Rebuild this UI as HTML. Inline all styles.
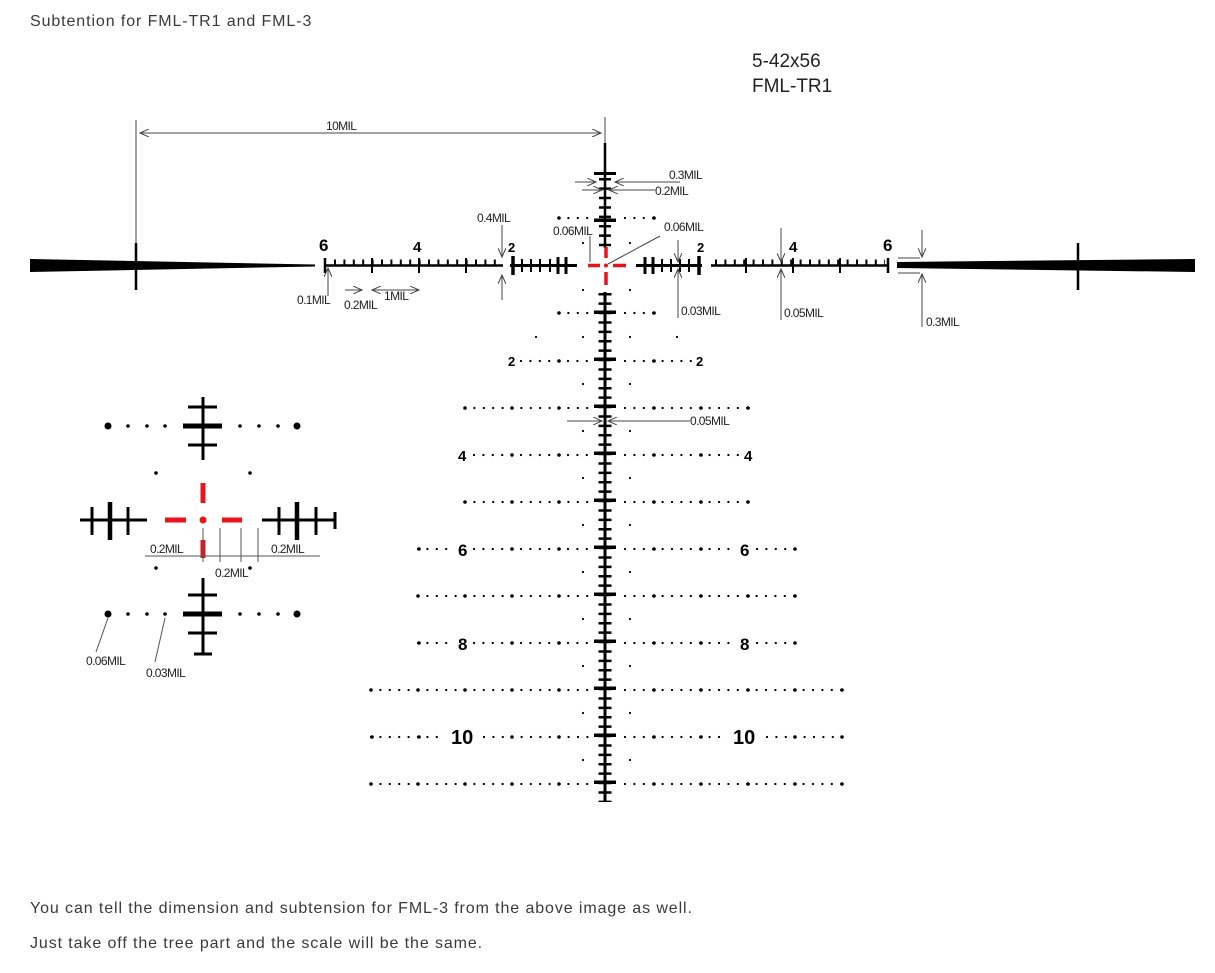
<!DOCTYPE html>
<html><head><meta charset="utf-8"><style>
html,body{margin:0;padding:0;background:#fff;width:1215px;height:973px;overflow:hidden}
.t{position:absolute;font-family:"Liberation Sans",sans-serif;color:#3a3a3a;white-space:nowrap}
.s{letter-spacing:0.9px}
svg{position:absolute;left:0;top:0}
</style></head><body>
<div class="t s" style="left:30px;top:13px;font-size:16px">Subtention for FML-TR1 and FML-3</div>
<div class="t" style="left:752px;top:49px;font-size:19px;line-height:25px;color:#222">5-42x56<br>FML-TR1</div>
<div class="t s" style="left:30px;top:900px;font-size:16px">You can tell the dimension and subtension for FML-3 from the above image as well.</div>
<div class="t s" style="left:30px;top:935px;font-size:16px">Just take off the tree part and the scale will be the same.</div>
<svg width="1215" height="973" viewBox="0 0 1215 973" font-family="Liberation Sans, sans-serif">
<defs><marker id="a" markerWidth="10" markerHeight="8" refX="9" refY="4" orient="auto" markerUnits="userSpaceOnUse"><path d="M0,0 L9,4 L0,8" fill="none" stroke="#444" stroke-width="1"/></marker></defs>
<g stroke="#000" fill="none">
<polygon points="30,259 315,264.5 315,266.5 30,272" fill="#000" stroke="none"/>
<polygon points="897,262 1195,259 1195,272 897,268" fill="#000" stroke="none"/>
<line x1="136" y1="243" x2="136" y2="290" stroke-width="2.5"/>
<line x1="1078" y1="243" x2="1078" y2="290" stroke-width="2.5"/>
<line x1="325" y1="265.5" x2="503" y2="265.5" stroke-width="2.5"/>
<line x1="334" y1="262" x2="503" y2="262" stroke-width="5" stroke-dasharray="2 7.4"/>
<line x1="325" y1="258" x2="325" y2="273" stroke-width="2.5"/>
<line x1="372" y1="258" x2="372" y2="273" stroke-width="2"/>
<line x1="419" y1="258" x2="419" y2="273" stroke-width="2"/>
<line x1="466" y1="258" x2="466" y2="273" stroke-width="2"/>
<line x1="711" y1="265.5" x2="888" y2="265.5" stroke-width="2.5"/>
<line x1="715" y1="262" x2="885" y2="262" stroke-width="5" stroke-dasharray="2 7.4"/>
<line x1="746" y1="258" x2="746" y2="273" stroke-width="2"/>
<line x1="793" y1="258" x2="793" y2="273" stroke-width="2"/>
<line x1="840" y1="258" x2="840" y2="273" stroke-width="2"/>
<line x1="888" y1="258" x2="888" y2="273" stroke-width="2.5"/>
<line x1="510" y1="265.5" x2="577" y2="265.5" stroke-width="3"/>
<line x1="513" y1="256" x2="513" y2="275" stroke-width="3.5"/>
<g stroke-width="2"><line x1="522" y1="259" x2="522" y2="272"/><line x1="531" y1="259" x2="531" y2="272"/><line x1="540" y1="259" x2="540" y2="272"/><line x1="550" y1="259" x2="550" y2="272"/></g>
<line x1="558" y1="257" x2="558" y2="274" stroke-width="3"/><line x1="566" y1="257" x2="566" y2="274" stroke-width="3"/>
<line x1="636" y1="265.5" x2="702" y2="265.5" stroke-width="3"/>
<line x1="699" y1="256" x2="699" y2="275" stroke-width="3.5"/>
<g stroke-width="2"><line x1="662" y1="259" x2="662" y2="272"/><line x1="671" y1="259" x2="671" y2="272"/><line x1="680" y1="259" x2="680" y2="272"/><line x1="689" y1="259" x2="689" y2="272"/></g>
<line x1="645" y1="257" x2="645" y2="274" stroke-width="3"/><line x1="653" y1="257" x2="653" y2="274" stroke-width="3"/>
<line x1="605" y1="143" x2="605" y2="248" stroke-width="2.5"/>
<line x1="605" y1="178" x2="605" y2="248" stroke-width="12" stroke-dasharray="2.5 6.9"/>
<line x1="605" y1="172" x2="605" y2="175" stroke-width="22"/>
<line x1="605" y1="218.5" x2="605" y2="222" stroke-width="22"/>
<line x1="605" y1="292" x2="605" y2="802" stroke-width="3"/>
<line x1="605" y1="293" x2="605" y2="802" stroke-width="13" stroke-dasharray="2.5 6.9"/>
<line x1="605" y1="310.5" x2="605" y2="802" stroke-width="22" stroke-dasharray="3.5 43.5"/>
</g>
<g stroke="#e8141b" stroke-width="3.5">
<line x1="588" y1="265.5" x2="600" y2="265.5"/><line x1="613" y1="265.5" x2="626" y2="265.5"/>
<line x1="606" y1="247" x2="606" y2="258"/><line x1="606" y1="272" x2="606" y2="285"/>
</g><circle cx="606" cy="265.5" r="2" fill="#e8141b"/>
<g stroke="#000" stroke-linecap="round" fill="none">
<g stroke-width="2.3" stroke-dasharray="0 9.4">
<line x1="559" y1="218" x2="590" y2="218"/><line x1="625" y1="218" x2="655" y2="218"/>
<line x1="559" y1="313" x2="590" y2="313"/><line x1="625" y1="313" x2="655" y2="313"/>
<line x1="521" y1="361" x2="590" y2="361"/><line x1="625" y1="361" x2="692" y2="361"/>
<line x1="465" y1="408" x2="590" y2="408"/><line x1="625" y1="408" x2="748" y2="408"/>
<line x1="474" y1="455" x2="590" y2="455"/><line x1="625" y1="455" x2="739" y2="455"/>
<line x1="465" y1="502" x2="590" y2="502"/><line x1="625" y1="502" x2="748" y2="502"/>
<line x1="418" y1="549" x2="455" y2="549"/><line x1="474" y1="549" x2="590" y2="549"/><line x1="625" y1="549" x2="737" y2="549"/><line x1="757" y1="549" x2="795" y2="549"/>
<line x1="418" y1="596" x2="590" y2="596"/><line x1="625" y1="596" x2="795" y2="596"/>
<line x1="418" y1="643" x2="455" y2="643"/><line x1="474" y1="643" x2="590" y2="643"/><line x1="625" y1="643" x2="737" y2="643"/><line x1="757" y1="643" x2="795" y2="643"/>
<line x1="371" y1="690" x2="590" y2="690"/><line x1="625" y1="690" x2="842" y2="690"/>
<line x1="371" y1="737" x2="446" y2="737"/><line x1="484" y1="737" x2="590" y2="737"/><line x1="625" y1="737" x2="727" y2="737"/><line x1="767" y1="737" x2="842" y2="737"/>
<line x1="371" y1="784" x2="590" y2="784"/><line x1="625" y1="784" x2="842" y2="784"/>
</g>
<g stroke-width="3.6" stroke-dasharray="0 47">
<line x1="559" y1="218" x2="558" y2="218"/><line x1="654" y1="218" x2="655" y2="218"/>
<line x1="559" y1="313" x2="558" y2="313"/><line x1="654" y1="313" x2="655" y2="313"/>
<line x1="559" y1="361" x2="520" y2="361"/><line x1="654" y1="361" x2="690" y2="361"/>
<line x1="559" y1="408" x2="464" y2="408"/><line x1="654" y1="408" x2="749" y2="408"/>
<line x1="559" y1="455" x2="500" y2="455"/><line x1="654" y1="455" x2="720" y2="455"/>
<line x1="559" y1="502" x2="464" y2="502"/><line x1="654" y1="502" x2="749" y2="502"/>
<line x1="559" y1="549" x2="500" y2="549"/><line x1="654" y1="549" x2="720" y2="549"/><line x1="419" y1="549" x2="418" y2="549"/><line x1="795" y1="549" x2="796" y2="549"/>
<line x1="559" y1="596" x2="417" y2="596"/><line x1="654" y1="596" x2="796" y2="596"/>
<line x1="559" y1="643" x2="500" y2="643"/><line x1="654" y1="643" x2="720" y2="643"/><line x1="419" y1="643" x2="418" y2="643"/><line x1="795" y1="643" x2="796" y2="643"/>
<line x1="559" y1="690" x2="370" y2="690"/><line x1="654" y1="690" x2="843" y2="690"/>
<line x1="559" y1="737" x2="500" y2="737"/><line x1="654" y1="737" x2="720" y2="737"/><line x1="419" y1="737" x2="370" y2="737"/><line x1="795" y1="737" x2="843" y2="737"/>
<line x1="559" y1="784" x2="370" y2="784"/><line x1="654" y1="784" x2="843" y2="784"/>
</g>
<g stroke-width="2.2" stroke-dasharray="0 47">
<line x1="583" y1="337" x2="583" y2="770"/><line x1="630" y1="337" x2="630" y2="770"/>
<line x1="536" y1="337" x2="536" y2="338"/><line x1="677" y1="337" x2="677" y2="338"/>
<line x1="583" y1="243" x2="583" y2="291"/><line x1="630" y1="243" x2="630" y2="291"/>
</g>
</g>
<g font-weight="bold" fill="#000">
<text x="319" y="251" font-size="17">6</text><text x="413" y="252" font-size="15">4</text><text x="508" y="252" font-size="13">2</text>
<text x="697" y="252" font-size="13">2</text><text x="789" y="252" font-size="15">4</text><text x="883" y="251" font-size="17">6</text>
<text x="508" y="366" font-size="13">2</text><text x="696" y="366" font-size="13">2</text>
<text x="458" y="461" font-size="15">4</text><text x="744" y="461" font-size="15">4</text>
<text x="458" y="556" font-size="17">6</text><text x="740" y="556" font-size="17">6</text>
<text x="458" y="650" font-size="17">8</text><text x="740" y="650" font-size="17">8</text>
<text x="451" y="744" font-size="20">10</text><text x="733" y="744" font-size="20">10</text>
</g>
<g stroke="#444" stroke-width="1" fill="none">
<line x1="136" y1="120" x2="136" y2="243"/><line x1="605" y1="117" x2="605" y2="143"/>
<line x1="140" y1="133" x2="601" y2="133" marker-end="url(#a)"/><line x1="601" y1="133" x2="140" y2="133" marker-end="url(#a)"/>
<line x1="575" y1="182" x2="596" y2="182" marker-end="url(#a)"/><line x1="680" y1="182" x2="615" y2="182" marker-end="url(#a)"/>
<line x1="582" y1="190" x2="602" y2="190" marker-end="url(#a)"/><line x1="655" y1="190" x2="609" y2="190" marker-end="url(#a)"/>
<line x1="502" y1="225" x2="502" y2="257" marker-end="url(#a)"/><line x1="502" y1="300" x2="502" y2="275" marker-end="url(#a)"/>
<line x1="590" y1="236" x2="590" y2="262"/>
<line x1="660" y1="236" x2="608" y2="264"/>
<line x1="678" y1="240" x2="678" y2="262" marker-end="url(#a)"/><line x1="678" y1="318" x2="678" y2="269" marker-end="url(#a)"/>
<line x1="781" y1="228" x2="781" y2="262" marker-end="url(#a)"/><line x1="781" y1="320" x2="781" y2="269" marker-end="url(#a)"/>
<line x1="898" y1="258" x2="920" y2="258"/><line x1="898" y1="273" x2="920" y2="273"/>
<line x1="922" y1="230" x2="922" y2="257" marker-end="url(#a)"/><line x1="922" y1="327" x2="922" y2="274" marker-end="url(#a)"/>
<line x1="328" y1="296" x2="328" y2="268" marker-end="url(#a)"/>
<line x1="345" y1="290" x2="362" y2="290" marker-end="url(#a)"/>
<line x1="372" y1="290" x2="419" y2="290" marker-end="url(#a)"/><line x1="419" y1="290" x2="372" y2="290" marker-end="url(#a)"/>
<line x1="567" y1="421" x2="602" y2="421" marker-end="url(#a)"/><line x1="690" y1="421" x2="608" y2="421" marker-end="url(#a)"/>
</g>
<g fill="#222" font-size="12" letter-spacing="-0.6">
<text x="326" y="130">10MIL</text>
<text x="669" y="179">0.3MIL</text><text x="655" y="195">0.2MIL</text>
<text x="477" y="222">0.4MIL</text><text x="553" y="235">0.06MIL</text><text x="664" y="231">0.06MIL</text>
<text x="681" y="315">0.03MIL</text><text x="784" y="317">0.05MIL</text><text x="926" y="326">0.3MIL</text>
<text x="297" y="304">0.1MIL</text><text x="344" y="309">0.2MIL</text><text x="384" y="300">1MIL</text>
<text x="690" y="425">0.05MIL</text>
</g>
<g stroke="#000" fill="none">
<line x1="203" y1="397" x2="203" y2="460" stroke-width="3"/>
<line x1="188" y1="407" x2="217" y2="407" stroke-width="3"/><line x1="183" y1="426" x2="222" y2="426" stroke-width="5"/><line x1="188" y1="445" x2="217" y2="445" stroke-width="3"/>
<line x1="203" y1="578" x2="203" y2="655" stroke-width="3"/>
<line x1="188" y1="595" x2="217" y2="595" stroke-width="3"/><line x1="183" y1="614" x2="222" y2="614" stroke-width="5"/><line x1="188" y1="633" x2="217" y2="633" stroke-width="3"/><line x1="194" y1="654" x2="212" y2="654" stroke-width="3"/>
<line x1="80" y1="520" x2="147" y2="520" stroke-width="3"/>
<line x1="92" y1="507" x2="92" y2="535" stroke-width="3"/><line x1="110" y1="502" x2="110" y2="540" stroke-width="4.5"/><line x1="128" y1="507" x2="128" y2="535" stroke-width="3"/>
<line x1="262" y1="520" x2="336" y2="520" stroke-width="3"/>
<line x1="279" y1="507" x2="279" y2="535" stroke-width="3"/><line x1="297" y1="502" x2="297" y2="540" stroke-width="4.5"/><line x1="316" y1="507" x2="316" y2="535" stroke-width="3"/><line x1="335" y1="512" x2="335" y2="529" stroke-width="3"/>
</g>
<g fill="#000">
<circle cx="108" cy="426" r="3.5"/><circle cx="128" cy="426" r="1.8"/><circle cx="147" cy="426" r="1.8"/><circle cx="165" cy="426" r="1.8"/>
<circle cx="240" cy="426" r="1.8"/><circle cx="259" cy="426" r="1.8"/><circle cx="278" cy="426" r="1.8"/><circle cx="297" cy="426" r="3.5"/>
<circle cx="108" cy="614" r="3.5"/><circle cx="128" cy="614" r="1.8"/><circle cx="147" cy="614" r="1.8"/><circle cx="165" cy="614" r="1.8"/>
<circle cx="240" cy="614" r="1.8"/><circle cx="259" cy="614" r="1.8"/><circle cx="278" cy="614" r="1.8"/><circle cx="297" cy="614" r="3.5"/>
<circle cx="156" cy="473" r="1.8"/><circle cx="250" cy="473" r="1.8"/><circle cx="156" cy="568" r="1.8"/><circle cx="250" cy="568" r="1.8"/>
</g>
<g stroke="#e8141b" stroke-width="5">
<line x1="203" y1="483" x2="203" y2="503"/><line x1="203" y1="540" x2="203" y2="558"/>
<line x1="165" y1="520" x2="186" y2="520"/><line x1="222" y1="520" x2="242" y2="520"/>
</g><circle cx="203" cy="520" r="3.5" fill="#e8141b"/>
<g stroke="#555" stroke-width="1" fill="none">
<line x1="145" y1="556" x2="320" y2="556"/>
<line x1="203" y1="528" x2="203" y2="562"/><line x1="220" y1="528" x2="220" y2="562"/><line x1="241" y1="528" x2="241" y2="562"/><line x1="258" y1="528" x2="258" y2="562"/>
<line x1="108" y1="618" x2="96" y2="652"/><line x1="165" y1="618" x2="155" y2="662"/>
</g>
<g fill="#222" font-size="12" letter-spacing="-0.6">
<text x="150" y="553">0.2MIL</text><text x="215" y="577">0.2MIL</text><text x="271" y="553">0.2MIL</text>
<text x="86" y="665">0.06MIL</text><text x="146" y="677">0.03MIL</text>
</g>
</svg>
</body></html>
